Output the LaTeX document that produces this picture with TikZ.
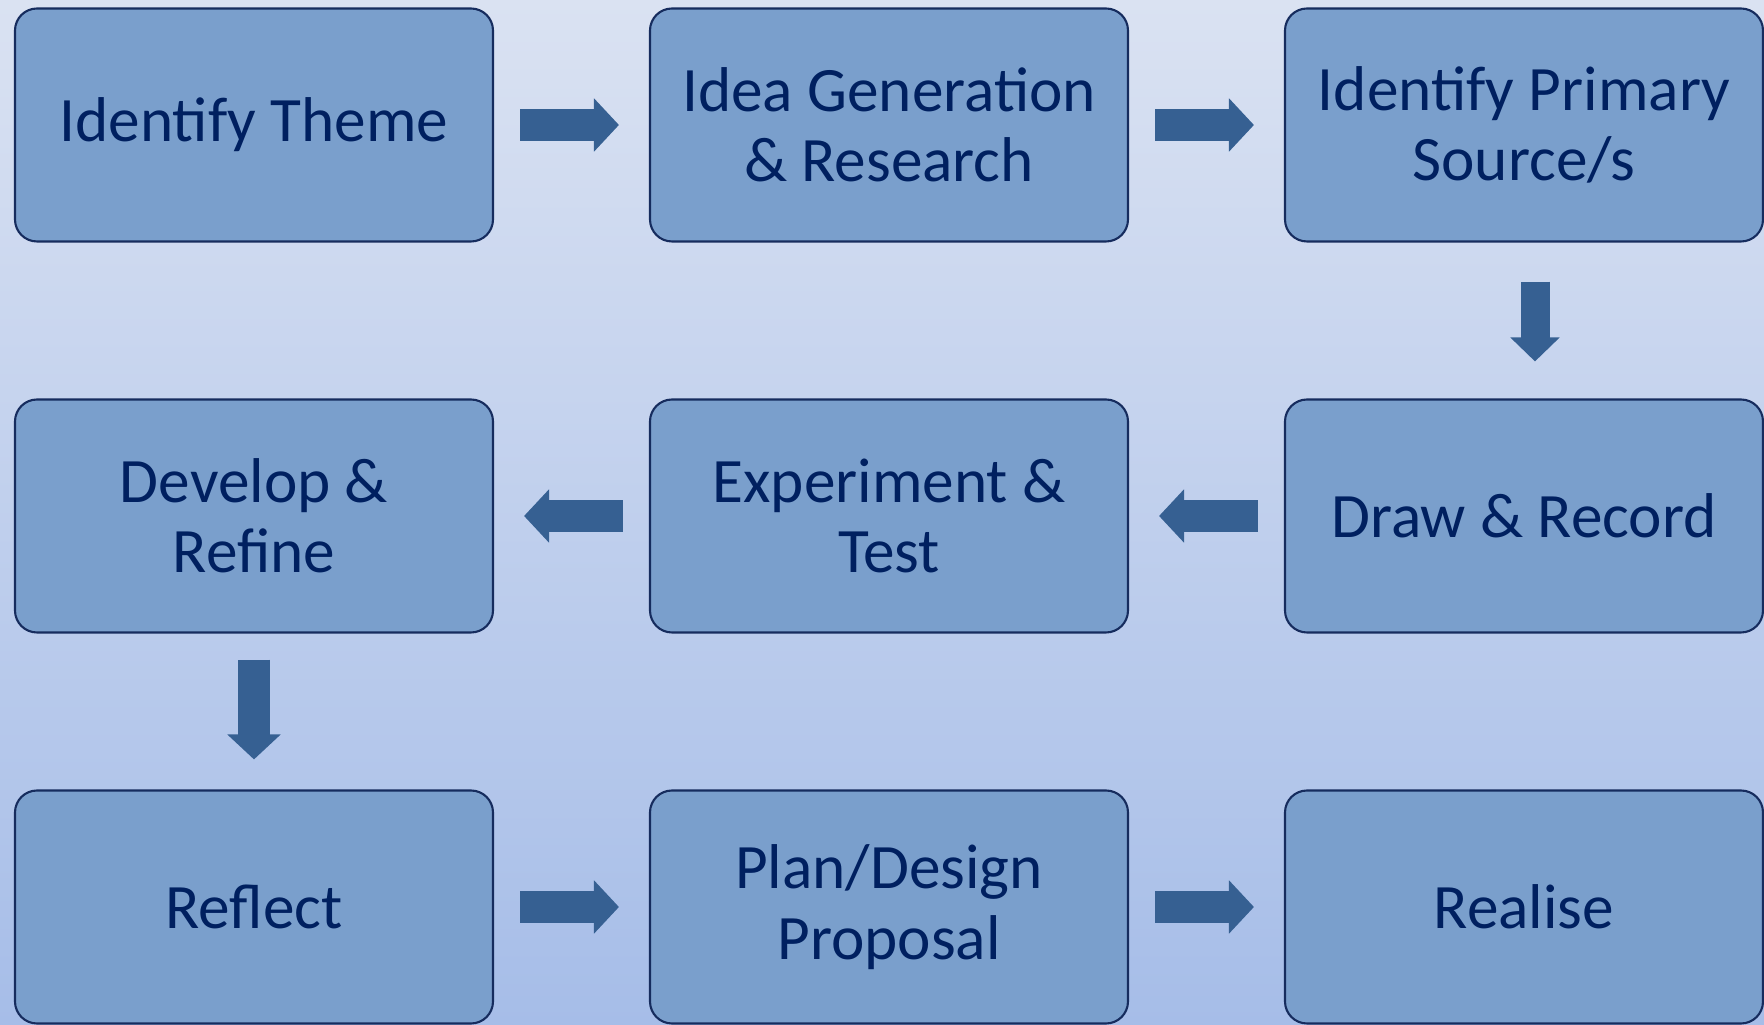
\documentclass[tikz,border=0pt]{standalone}
\usepackage{fontspec}
\setmainfont{Carlito}
\usetikzlibrary{arrows.meta}
\definecolor{bgtop}{RGB}{218,226,242}
\definecolor{bgbottom}{RGB}{166,189,232}
\definecolor{boxfill}{RGB}{122,159,204}
\definecolor{boxline}{RGB}{22,44,94}
\definecolor{boxtext}{RGB}{0,32,96}
\definecolor{flowblue}{RGB}{54,96,146}
\begin{document}
\begin{tikzpicture}[x=0.1mm,y=-0.1mm,
  box/.style={draw=boxline,line width=0.6pt,fill=boxfill,rounded corners=2.2mm,
    minimum width=47.8mm,minimum height=23.3mm,align=center,text=boxtext,
    font=\fontsize{18}{20}\selectfont},
  flow/.style={draw=flowblue,line width=3.2mm,-{Triangle[width=5.2mm,length=2.5mm]},
    shorten <=2.6mm,shorten >=3mm}]
\useasboundingbox (0,0) rectangle (1764,1025);
\fill[top color=bgtop,bottom color=bgbottom] (0,0) rectangle (1764,1025);

\node[box] (1) at (254,125) {Identify Theme};
\node[box] (2) at (889,125) {Idea Generation\\ \& Research};
\node[box] (3) at (1524,125) {Identify Primary\\ Source/s};
\node[box] (4) at (1524,516) {Draw \& Record};
\node[box] (5) at (889,516) {Experiment \&\\ Test};
\node[box] (6) at (254,516) {Develop \&\\ Refine};
\node[box] (7) at (254,907) {Reflect};
\node[box] (8) at (889,907) {Plan/Design\\ Proposal};
\node[box] (9) at (1524,907) {Realise};

\path[flow] (1) -- (2);
\path[flow] (2) -- (3);
\path[flow,line width=2.9mm,-{Triangle[width=4.8mm,length=2.4mm]},shorten <=3.9mm,shorten >=3.7mm]
  ([xshift=1.1mm]3.south) -- ([xshift=1.1mm]4.north);
\path[flow] (4) -- (5);
\path[flow] (5) -- (6);
\path[flow] (6) -- (7);
\path[flow] (7) -- (8);
\path[flow] (8) -- (9);
\end{tikzpicture}
\end{document}
